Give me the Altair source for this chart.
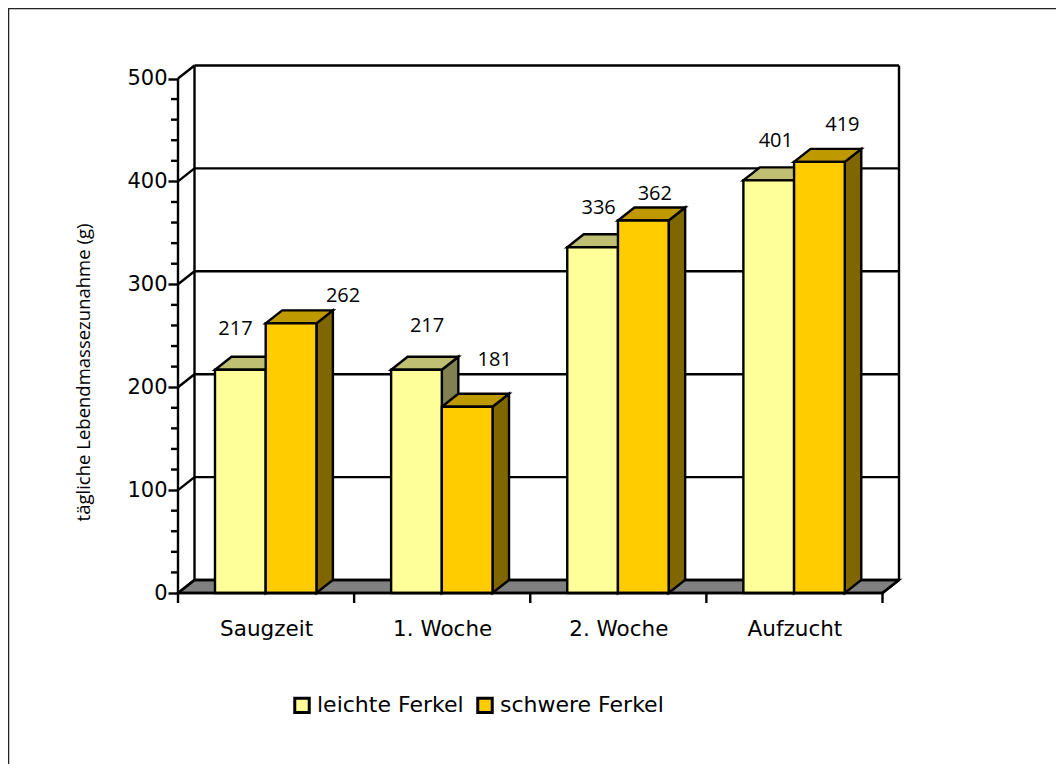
import json
import altair as alt
import pandas as pd

categories = ["Saugzeit", "1. Woche", "2. Woche", "Aufzucht"]
series_names = ["leichte Ferkel", "schwere Ferkel"]
light_values = [217, 217, 336, 401]
heavy_values = [262, 181, 362, 419]
major_ticks = [0, 100, 200, 300, 400, 500]
minor_ticks = [20, 40, 60, 80, 120, 140, 160, 180, 220, 240, 260, 280,
               320, 340, 360, 380, 420, 440, 460, 480]
# hand-placed label offsets (category units, value units) as in the source chart
light_label_dx = [0.116, 0.204, 0.178, 0.184]
light_label_dy = [40, 42, 38, 38]
heavy_label_dx = [0.727, 0.588, 0.497, 0.562]
heavy_label_dy = [27, 45.6, 26, 36]

FONT = "DejaVu Sans"
NARROW_FONT = "Open Sans"
LIGHT, HEAVY = "#FFFF99", "#FFCC00"
LIGHT_TOP, LIGHT_SIDE = "#BFBF73", "#808050"
HEAVY_TOP, HEAVY_SIDE = "#BF9900", "#806600"
INK = "#000000"
LW = 2.4

CAT_PX = 176.125
VAL_PX = 1.029
W, H = 722, 528
DX = 16.5 / CAT_PX
DY = 13 / VAL_PX
BAR_START = 37 / CAT_PX
BAR_W = 50.7 / CAT_PX

xs = alt.Scale(domain=[0, W / CAT_PX], nice=False, zero=False)
ys = alt.Scale(domain=[0, H / VAL_PX], nice=False, zero=False)

labels_js = json.dumps(categories)
x_axis = alt.Axis(
    title=None, values=[0.5, 1.5, 2.5, 3.5], ticks=False, domain=False, grid=False,
    labelExpr=f"{labels_js}[floor(datum.value)]", labelFontSize=21.5, labelPadding=25,
    labelColor=INK, labelFont=FONT)
y_axis = alt.Axis(
    title="tägliche Lebendmassezunahme (g)",
    values=major_ticks, tickSize=10, tickWidth=LW, tickColor=INK, domain=False, grid=False,
    labelFontSize=21, labelPadding=1, labelColor=INK, labelFont=FONT,
    titleFontSize=18.5, titleFontWeight="normal", titleColor=INK, titleFont=NARROW_FONT,
    titleX=-85, titleY=307, titleAnchor="middle")


def X(f, **k):
    return alt.X(f, type="quantitative", scale=xs, axis=x_axis, stack=None, **k)


def Y(f, **k):
    return alt.Y(f, type="quantitative", scale=ys, axis=y_axis, stack=None, **k)


x2 = alt.X2
y2 = alt.Y2

sides, tops, fronts = [], [], []
for s, vals in enumerate([light_values, heavy_values]):
    for c, v in enumerate(vals):
        l = c + BAR_START + s * BAR_W
        r = l + BAR_W
        fronts.append(dict(s=series_names[s], l=l, r=r, v=v, z=0))
        for t in (0, 1):
            sides.append(dict(s=s, id=f"{s}{c}", x=r + t * DX, top=v + t * DY, bot=t * DY))
            tops.append(dict(s=s, id=f"{s}{c}", xl=l + t * DX, xr=r + t * DX, y=v + t * DY))
sides, tops, fronts = map(pd.DataFrame, (sides, tops, fronts))


def side_layer(s, color):
    return alt.Chart(sides[sides.s == s]).mark_area(
        color=color, stroke=INK, strokeWidth=LW
    ).encode(x=X("x"), y=Y("top"), y2=y2("bot"), detail="id:N")


def top_layer(s, color):
    return alt.Chart(tops[tops.s == s]).mark_area(
        orient="horizontal", color=color, stroke=INK, strokeWidth=LW
    ).encode(y=Y("y"), x=X("xl"), x2=x2("xr"), detail="id:N")


# outer frame (extends past the right and bottom edge of the image)
frame = alt.Chart(pd.DataFrame({"a": [0]})).mark_rect(
    fill="transparent", stroke="#222222", strokeWidth=1.5
).encode(x=alt.value(-169.5), x2=alt.value(1100), y=alt.value(-56.5), y2=alt.value(900))

# floor
floor_df = pd.DataFrame({"y": [0, DY], "xl": [0, DX], "xr": [4, 4 + DX]})
floor = alt.Chart(floor_df).mark_area(
    orient="horizontal", color="#808080", stroke=INK, strokeWidth=LW
).encode(y=Y("y"), x=X("xl"), x2=x2("xr"))

# back wall: gridlines, connectors and edges
grid_df = pd.DataFrame({"v": major_ticks})
grid_df["b"] = grid_df.v + DY
grid_df["x0"] = 0.0
grid_df["x1"] = DX
grid_df["x2"] = 4 + DX
grid = alt.Chart(grid_df).mark_rule(color=INK, strokeWidth=LW).encode(
    x=X("x1"), x2=x2("x2"), y=Y("b"))
slant = alt.Chart(grid_df).mark_rule(color=INK, strokeWidth=LW).encode(
    x=X("x0"), x2=x2("x1"), y=Y("v"), y2=y2("b"))
wall_df = pd.DataFrame({"x": [DX, 4 + DX], "a": [DY, DY], "b": [500 + DY, 500 + DY]})
wall = alt.Chart(wall_df).mark_rule(color=INK, strokeWidth=LW).encode(
    x=X("x"), y=Y("a"), y2=y2("b"))
floor_right = alt.Chart(pd.DataFrame({"x": [4], "x2": [4 + DX], "a": [0], "b": [DY]})).mark_rule(
    color=INK, strokeWidth=LW).encode(x=X("x"), x2=x2("x2"), y=Y("a"), y2=y2("b"))

# front axis lines and ticks
yline = alt.Chart(pd.DataFrame({"x": [0], "a": [0], "b": [500]})).mark_rule(
    color=INK, strokeWidth=LW).encode(x=X("x"), y=Y("a"), y2=y2("b"))
xline = alt.Chart(pd.DataFrame({"y": [0], "a": [0], "b": [4]})).mark_rule(
    color=INK, strokeWidth=LW).encode(y=Y("y"), x=X("a"), x2=x2("b"))
minor = alt.Chart(pd.DataFrame({"v": minor_ticks})).mark_rule(color=INK, strokeWidth=LW).encode(
    y=Y("v"), x=alt.value(-7), x2=alt.value(0))
xticks = alt.Chart(pd.DataFrame({"c": [0, 1, 2, 3, 4]})).mark_rule(color=INK, strokeWidth=LW).encode(
    x=X("c"), y=alt.value(H), y2=alt.value(H + 10))

fronts_layer = alt.Chart(fronts).mark_rect(stroke=INK, strokeWidth=LW).encode(
    x=X("l"), x2=x2("r"), y=Y("v"), y2=y2("z"),
    fill=alt.Fill("s:N", scale=alt.Scale(domain=series_names, range=[LIGHT, HEAVY]),
                  legend=alt.Legend(
                      title=None, orient="none", legendX=113, legendY=629, direction="horizontal",
                      symbolType="square", symbolSize=210, symbolStrokeColor=INK, symbolStrokeWidth=3,
                      labelFontSize=22, labelFont=FONT, labelColor=INK, labelOffset=4, labelLimit=400,
                      columnPadding=7, padding=0)),
)

# value labels
label_rows = []
for c in range(4):
    label_rows.append(dict(x=c + BAR_START + light_label_dx[c], y=light_values[c] + light_label_dy[c], t=str(light_values[c])))
    label_rows.append(dict(x=c + BAR_START + heavy_label_dx[c], y=heavy_values[c] + heavy_label_dy[c], t=str(heavy_values[c])))
texts = alt.Chart(pd.DataFrame(label_rows)).mark_text(
    font=NARROW_FONT, fontSize=20, color=INK, align="center", baseline="middle"
).encode(x=X("x"), y=Y("y"), text="t:N")

chart = alt.layer(
    frame, floor, grid, slant, wall, floor_right,
    side_layer(0, LIGHT_SIDE), top_layer(0, LIGHT_TOP),
    side_layer(1, HEAVY_SIDE), top_layer(1, HEAVY_TOP),
    fronts_layer, yline, xline, minor, xticks, texts,
).properties(
    width=W, height=H, background="white",
    autosize=alt.AutoSizeParams(type="none"),
    padding={"left": 170, "top": 57, "right": 156, "bottom": 171},
).configure_view(stroke=None)

chart.save("out.html", embed_options={"renderer": "svg", "actions": False})
